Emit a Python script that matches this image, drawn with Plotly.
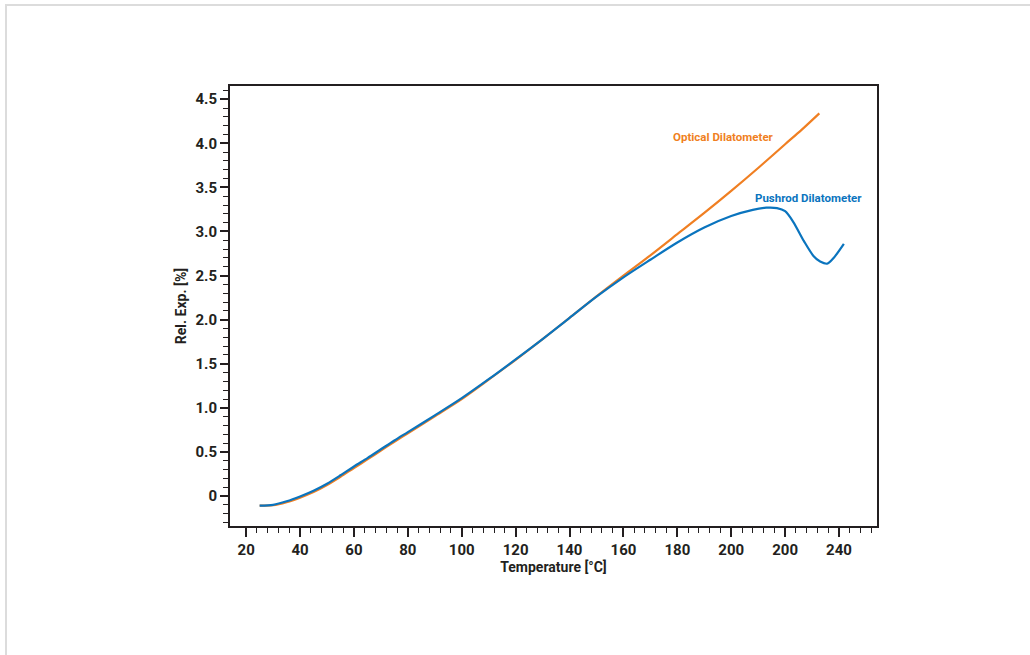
import plotly.graph_objects as go

# ---- data ----
push_T = [25, 30, 35, 40, 45, 50, 55, 60, 65, 70, 75, 80, 90, 100, 110, 120, 130, 140, 150, 160,
          170, 180, 190, 200, 208, 213, 217, 220, 223, 227, 230.6, 233, 235.6, 238, 241.8]
push_y = [-0.11, -0.10, -0.06, -0.005, 0.06, 0.14, 0.235, 0.335, 0.43, 0.53, 0.63, 0.725, 0.915,
          1.11, 1.325, 1.55, 1.78, 2.02, 2.26, 2.48, 2.68, 2.875, 3.045, 3.175, 3.245, 3.27,
          3.265, 3.23, 3.11, 2.89, 2.72, 2.66, 2.635, 2.70, 2.86]

opt_T = [25, 30, 35, 40, 45, 50, 55, 60, 65, 70, 75, 80, 90, 100, 110, 120, 130, 140, 150, 160,
         170, 180, 190, 200, 210, 220, 226, 232.7]
opt_y = [-0.11, -0.105, -0.07, -0.018, 0.045, 0.125, 0.218, 0.318, 0.415, 0.515, 0.615, 0.712,
         0.905, 1.10, 1.32, 1.545, 1.78, 2.02, 2.265, 2.50, 2.73, 2.97, 3.21, 3.46, 3.72, 3.99,
         4.15, 4.34]

x_tickvals = [20, 40, 60, 80, 100, 120, 140, 160, 180, 200, 220, 240]
x_ticktext = ["20", "40", "60", "80", "100", "120", "140", "160", "180", "200", "200", "240"]
y_tickvals = [0, 0.5, 1.0, 1.5, 2.0, 2.5, 3.0, 3.5, 4.0, 4.5]
y_ticktext = ["0", "0.5", "1.0", "1.5", "2.0", "2.5", "3.0", "3.5", "4.0", "4.5"]

x_minor = [v for v in range(20, 253, 4) if v not in x_tickvals]
y_minor = [round(i / 10, 1) for i in range(-3, 47) if round(i / 10, 1) not in y_tickvals]

ORANGE = "#F07F22"
BLUE = "#0A74BE"
DARK = "#231F20"
FONT = "Roboto, Liberation Sans, sans-serif"

fig = go.Figure()
fig.add_trace(go.Scatter(x=opt_T, y=opt_y, mode="lines",
                         line=dict(color=ORANGE, width=2.2, shape="spline", smoothing=0.8),
                         name="Optical Dilatometer", showlegend=False))
fig.add_trace(go.Scatter(x=push_T, y=push_y, mode="lines",
                         line=dict(color=BLUE, width=2.2, shape="spline", smoothing=0.8),
                         name="Pushrod Dilatometer", showlegend=False))

fig.add_annotation(x=197.1, y=4.07, text="Optical Dilatometer", showarrow=False,
                   font=dict(family=FONT, size=11.5, color=ORANGE, weight="bold"))
fig.add_annotation(x=228.6, y=3.38, text="Pushrod Dilatometer", showarrow=False,
                   font=dict(family=FONT, size=11.5, color=BLUE, weight="bold"))

# light grey frame around the image
fig.add_shape(type="rect", xref="paper", yref="paper", x0=-0.3462, x1=1.26, y0=-0.32, y1=1.184,
              line=dict(color="#DCDCDC", width=2), layer="below")

fig.update_layout(
    width=1030, height=655,
    margin=dict(l=230, r=153, t=86, b=129),
    paper_bgcolor="white", plot_bgcolor="white",
    font=dict(family=FONT, color=DARK, size=15, weight="bold"),
    xaxis=dict(
        range=[14.0, 254.1], showgrid=False, zeroline=False,
        showline=True, linecolor=DARK, linewidth=2, mirror=True,
        tickmode="array", tickvals=x_tickvals, ticktext=x_ticktext,
        ticks="outside", ticklen=9, tickwidth=1.5, tickcolor=DARK,
        tickfont=dict(family=FONT, size=15, color=DARK, weight="bold"),
        minor=dict(tickmode="array", tickvals=x_minor, ticks="outside", ticklen=5, tickwidth=1.3,
                   tickcolor=DARK, showgrid=False),
        title=dict(text="Temperature [°C]", standoff=4,
                   font=dict(family=FONT, size=14, color=DARK, weight="bold")),
    ),
    yaxis=dict(
        range=[-0.34, 4.65], showgrid=False, zeroline=False,
        showline=True, linecolor=DARK, linewidth=2, mirror=True,
        tickmode="array", tickvals=y_tickvals, ticktext=y_ticktext,
        ticks="outside", ticklen=8, tickwidth=1.5, tickcolor=DARK,
        tickfont=dict(family=FONT, size=15, color=DARK, weight="bold"),
        minor=dict(tickmode="array", tickvals=y_minor, ticks="outside", ticklen=5, tickwidth=1.3,
                   tickcolor=DARK, showgrid=False),
        title=dict(text="Rel. Exp. [%]", standoff=6,
                   font=dict(family=FONT, size=14, color=DARK, weight="bold")),
    ),
)

fig.write_html("out.html", config={"displayModeBar": False},
               post_script="document.body.style.margin='0';")
